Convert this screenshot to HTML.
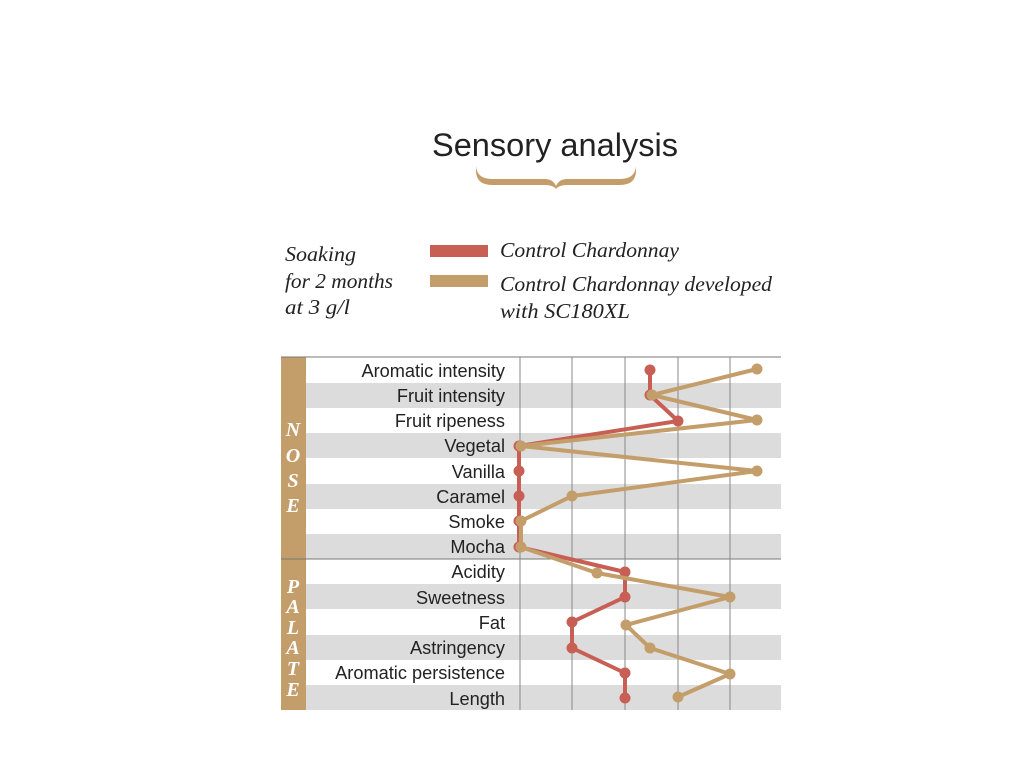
<!DOCTYPE html>
<html><head><meta charset="utf-8"><style>
body{margin:0;background:#fff;width:1024px;height:768px;overflow:hidden}
</style></head><body>
<svg width="1024" height="768" xmlns="http://www.w3.org/2000/svg">
<text x="555" y="156" text-anchor="middle" font-family="Liberation Sans, sans-serif" font-size="32" fill="#222" textLength="246" lengthAdjust="spacingAndGlyphs">Sensory analysis</text>
<path d="M476 166 Q477 179 492 179 L545 179 Q553 179 556 186 Q559 179 567 179 L620 179 Q635 179 636 166 L636 172 Q635 185 620 185 L567 185 Q559 185 556 189 Q553 185 545 185 L492 185 Q477 185 476 172 Z" fill="#c49e6a"/>
<g font-family="Liberation Serif, serif" font-style="italic" font-size="21" fill="#222" lengthAdjust="spacingAndGlyphs">
<text x="285" y="261" textLength="71" lengthAdjust="spacingAndGlyphs">Soaking</text>
<text x="285" y="288" textLength="108" lengthAdjust="spacingAndGlyphs">for 2 months</text>
<text x="285" y="314" textLength="65" lengthAdjust="spacingAndGlyphs">at 3 g/l</text>
<text x="500" y="257" textLength="179" lengthAdjust="spacingAndGlyphs">Control Chardonnay</text>
<text x="500" y="291" textLength="272" lengthAdjust="spacingAndGlyphs">Control Chardonnay developed</text>
<text x="500" y="318" textLength="130" lengthAdjust="spacingAndGlyphs">with SC180XL</text>
</g>
<rect x="430" y="245" width="58" height="12" fill="#c85f55"/>
<rect x="430" y="275" width="58" height="12" fill="#c49e6a"/>
<g fill="#dcdcdc">
<rect x="306" y="383" width="475" height="25"/>
<rect x="306" y="433" width="475" height="25"/>
<rect x="306" y="484" width="475" height="25"/>
<rect x="306" y="534" width="475" height="25"/>
<rect x="306" y="584" width="475" height="25"/>
<rect x="306" y="635" width="475" height="25"/>
<rect x="306" y="685" width="475" height="25"/>
</g>
<rect x="281" y="357" width="25" height="353" fill="#c49e6a"/>
<line x1="281" y1="357" x2="781" y2="357" stroke="#777" stroke-width="1"/>
<line x1="281" y1="559" x2="781" y2="559" stroke="#777" stroke-width="1"/>
<g stroke="#888" stroke-width="1">
<line x1="520" y1="357" x2="520" y2="710"/>
<line x1="572" y1="357" x2="572" y2="710"/>
<line x1="625" y1="357" x2="625" y2="710"/>
<line x1="678" y1="357" x2="678" y2="710"/>
<line x1="730" y1="357" x2="730" y2="710"/>
</g>
<g font-family="Liberation Serif, serif" font-style="italic" font-weight="bold" font-size="20" fill="#fff" text-anchor="middle">
<text x="293" y="436">N</text><text x="293" y="462">O</text><text x="293" y="487">S</text><text x="293" y="512">E</text>
<text x="293" y="593">P</text><text x="293" y="613">A</text><text x="293" y="634">L</text><text x="293" y="654">A</text><text x="293" y="675">T</text><text x="293" y="696">E</text>
</g>
<g font-family="Liberation Sans, sans-serif" font-size="18.2" fill="#222" text-anchor="end">
<text x="505" y="377">Aromatic intensity</text>
<text x="505" y="402">Fruit intensity</text>
<text x="505" y="427">Fruit ripeness</text>
<text x="505" y="452">Vegetal</text>
<text x="505" y="478">Vanilla</text>
<text x="505" y="503">Caramel</text>
<text x="505" y="528">Smoke</text>
<text x="505" y="553">Mocha</text>
<text x="505" y="578">Acidity</text>
<text x="505" y="604">Sweetness</text>
<text x="505" y="629">Fat</text>
<text x="505" y="654">Astringency</text>
<text x="505" y="679">Aromatic persistence</text>
<text x="505" y="705">Length</text>
</g>
<polyline fill="none" stroke="#c85f55" stroke-width="4" stroke-linejoin="round" points="650,370 650,395 678,421 519,446 519,471 519,496 519,521 519,547 625,572 625,597 572,622 572,648 625,673 625,698"/>
<g fill="#c85f55">
<circle cx="650" cy="370" r="5.5"/><circle cx="650" cy="395" r="5.5"/><circle cx="678" cy="421" r="5.5"/><circle cx="519" cy="446" r="5.5"/><circle cx="519" cy="471" r="5.5"/><circle cx="519" cy="496" r="5.5"/><circle cx="519" cy="521" r="5.5"/><circle cx="519" cy="547" r="5.5"/><circle cx="625" cy="572" r="5.5"/><circle cx="625" cy="597" r="5.5"/><circle cx="572" cy="622" r="5.5"/><circle cx="572" cy="648" r="5.5"/><circle cx="625" cy="673" r="5.5"/><circle cx="625" cy="698" r="5.5"/>
</g>
<polyline fill="none" stroke="#c49e6a" stroke-width="4" stroke-linejoin="round" points="757,369 652,395 757,420 521,446 757,471 572,496 521,521 521,547 597,573 730,597 626,625 650,648 730,674 678,697"/>
<g fill="#c49e6a">
<circle cx="757" cy="369" r="5.5"/><circle cx="652" cy="395" r="5.5"/><circle cx="757" cy="420" r="5.5"/><circle cx="521" cy="446" r="5.5"/><circle cx="757" cy="471" r="5.5"/><circle cx="572" cy="496" r="5.5"/><circle cx="521" cy="521" r="5.5"/><circle cx="521" cy="547" r="5.5"/><circle cx="597" cy="573" r="5.5"/><circle cx="730" cy="597" r="5.5"/><circle cx="626" cy="625" r="5.5"/><circle cx="650" cy="648" r="5.5"/><circle cx="730" cy="674" r="5.5"/><circle cx="678" cy="697" r="5.5"/>
</g>
</svg>
</body></html>
